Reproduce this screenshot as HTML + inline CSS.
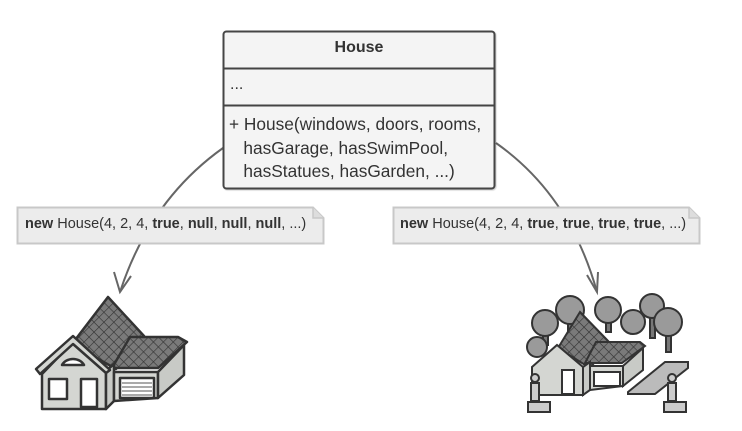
<!DOCTYPE html>
<html><head><meta charset="utf-8"><style>
body{margin:0;background:#fff;width:742px;height:431px;overflow:hidden;position:relative;font-family:"Liberation Sans",sans-serif;color:#333}
.t{position:absolute;white-space:nowrap}
</style></head><body>
<svg width="742" height="431" style="position:absolute;left:0;top:0">
<defs><filter id="s"><feDropShadow dx="1" dy="1" stdDeviation="0.5" flood-color="#000" flood-opacity="0.2"/></filter>
<pattern id="g" width="7" height="7" patternUnits="userSpaceOnUse" patternTransform="rotate(45)"><rect width="7" height="7" fill="#7a7a7a"/><path d="M0,0H7M0,0V7" stroke="#333" stroke-width="1.2"/></pattern></defs>
<path d="M223,148 Q150,200 120,292" fill="none" stroke="#666" stroke-width="2"/>
<polyline points="114,272 120,292 131,276" fill="none" stroke="#666" stroke-width="2"/>
<path d="M496,143 Q570,195 597,292" fill="none" stroke="#666" stroke-width="2"/>
<polyline points="587,275 597,292 598,272" fill="none" stroke="#666" stroke-width="2"/>
<rect x="223.5" y="31.5" width="271" height="157" rx="3" fill="#f4f4f4" stroke="#444" stroke-width="2" filter="url(#s)"/>
<line x1="224" y1="68.5" x2="494" y2="68.5" stroke="#444" stroke-width="2"/>
<line x1="224" y1="105.5" x2="494" y2="105.5" stroke="#444" stroke-width="2"/>
<path d="M17.5,207.5 H313 L323.5,218 V243.5 H17.5 Z" fill="#ececec" stroke="#c8c8c8" stroke-width="2"/>
<path d="M313,207.5 V218 H323.5" fill="#ddd" stroke="#c8c8c8" stroke-width="1.5"/>
<path d="M393.5,207.5 H689 L699.5,218 V243.5 H393.5 Z" fill="#ececec" stroke="#c8c8c8" stroke-width="2"/>
<path d="M689,207.5 V218 H699.5" fill="#ddd" stroke="#c8c8c8" stroke-width="1.5"/>
<g stroke="#333" stroke-width="2.5" stroke-linejoin="round">
<polygon points="108,297 144,336 116,369 72,344" fill="url(#g)"/>
<polygon points="130,337 178,337 187,342 158,368 112,368" fill="url(#g)"/>
<polygon points="42,374 73,342 106,371 106,409 42,409" fill="#d4d6d2"/>
<polygon points="106,371 114,364 114,401 106,409" fill="#c8cac6"/>
<polygon points="114,372 158,372 158,398 114,401" fill="#d4d6d2"/>
<polygon points="158,372 184,345 184,375 158,398" fill="#c8cac6"/>
<polygon points="36,369 73,336 110,370 106,373 73,344 40,374" fill="#d4d6d2"/>
<rect x="120" y="378" width="34" height="20" fill="#fff"/>
<rect x="81" y="379" width="16" height="28" fill="#fff"/>
<rect x="49" y="379" width="18" height="20" fill="#fff"/>
<path d="M62,365 A12,10 0 0 1 84,365 Z" fill="#fff"/>
</g>
<g stroke="#555" stroke-width="1"><path d="M122,383 h30 M122,387 h30 M122,391 h30 M122,395 h30"/></g>
<g stroke="#333" stroke-width="2" fill="#777">
<rect x="543" y="325" width="5" height="20"/><rect x="568" y="312" width="5" height="20"/><rect x="606" y="312" width="5" height="20"/>
<rect x="650" y="308" width="5" height="30"/><rect x="666" y="324" width="5" height="28"/>
</g>
<g fill="#9a9a9a" stroke="#333" stroke-width="2">
<circle cx="545" cy="323" r="13"/><circle cx="570" cy="310" r="14"/><circle cx="608" cy="310" r="13"/>
<circle cx="633" cy="322" r="12"/><circle cx="652" cy="306" r="12"/><circle cx="668" cy="322" r="14"/>
<circle cx="537" cy="347" r="10"/>
<polygon points="580,312 610,343 590,368 558,348" fill="url(#g)"/>
<polygon points="596,342 640,342 645,346 622,363 585,363" fill="url(#g)"/>
<polygon points="532,367 557,345 583,367 583,395 532,395" fill="#d4d6d2"/>
<polygon points="583,367 590,362 590,390 583,395" fill="#c8cac6"/>
<polygon points="590,366 623,366 623,386 590,390" fill="#d4d6d2"/>
<polygon points="623,366 643,348 643,370 623,386" fill="#c8cac6"/>
<rect x="594" y="372" width="26" height="14" fill="#fff"/>
<rect x="562" y="370" width="12" height="24" fill="#fff"/>
<polygon points="628,392 665,362 688,362 688,368 655,394 628,394" fill="#bbb"/>
<rect x="528" y="402" width="22" height="10" fill="#ccc"/>
<rect x="664" y="402" width="22" height="10" fill="#ccc"/>
<circle cx="535" cy="378" r="4" fill="#ccc"/><rect x="531" y="383" width="8" height="18" fill="#ccc"/>
<circle cx="672" cy="378" r="4" fill="#ccc"/><rect x="668" y="383" width="8" height="18" fill="#ccc"/>
</g>
</svg>
<div class="t" style="left:223px;top:39px;width:272px;text-align:center;font-weight:bold;font-size:16px">House</div>
<div class="t" style="left:230px;top:76px;font-size:16px">...</div>
<div class="t" style="left:229px;top:113px;font-size:17.3px;line-height:23.5px">+ House(windows, doors, rooms,<br>&nbsp;&nbsp;&nbsp;hasGarage, hasSwimPool,<br>&nbsp;&nbsp;&nbsp;hasStatues, hasGarden, ...)</div>
<div class="t" style="left:25px;top:216px;font-size:14.5px"><b>new</b> House(4, 2, 4, <b>true</b>, <b>null</b>, <b>null</b>, <b>null</b>, ...)</div>
<div class="t" style="left:400px;top:216px;font-size:14.5px"><b>new</b> House(4, 2, 4, <b>true</b>, <b>true</b>, <b>true</b>, <b>true</b>, ...)</div>
</body></html>
